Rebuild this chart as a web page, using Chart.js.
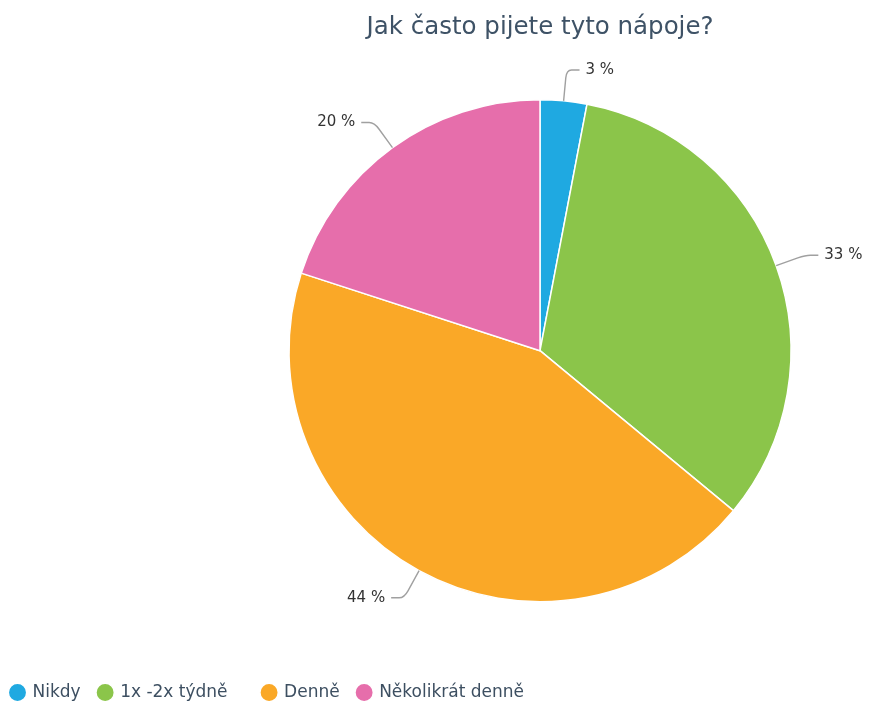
<!DOCTYPE html>
<html>
<head>
<meta charset="utf-8">
<script src="https://cdn.jsdelivr.net/npm/chart.js@4.4.0/dist/chart.umd.min.js"></script>
<style>
  html, body { margin: 0; padding: 0; background: #fff; }
  #wrap { width: 870px; height: 702px; }
</style>
</head>
<body>
<div id="wrap"><canvas id="myChart"></canvas></div>
<script>
const labels = ['Nikdy', '1x -2x týdně', 'Denně', 'Několikrát denně'];
const values = [3, 33, 44, 20];
const colors = ['#1fa9e1', '#8bc54a', '#faa827', '#e66eab'];

// percentage labels outside the pie, with a bent leader line
const outsideLabels = {
  id: 'outsideLabels',
  afterDatasetsDraw(chart) {
    const ctx = chart.ctx;
    const meta = chart.getDatasetMeta(0);
    ctx.save();
    ctx.font = '15px "DejaVu Sans"';
    ctx.textBaseline = 'middle';
    meta.data.forEach((arc, i) => {
      const a = (arc.startAngle + arc.endAngle) / 2;
      const r = arc.outerRadius;
      const cos = Math.cos(a), sin = Math.sin(a);
      const x0 = arc.x + cos * r, y0 = arc.y + sin * r;
      const ext = r + 31;
      const x1 = arc.x + cos * ext, y1 = arc.y + sin * ext;
      const dir = cos >= 0 ? 1 : -1;
      const x2 = x1 + dir * 13;
      const xm = arc.x + cos * (ext - 8), ym = arc.y + sin * (ext - 8);
      ctx.beginPath();
      ctx.moveTo(x0, y0);
      ctx.lineTo(xm, ym);
      ctx.quadraticCurveTo(x1, y1, x1 + dir * 5, y1);
      ctx.lineTo(x2, y1);
      ctx.strokeStyle = '#a0a0a0';
      ctx.lineWidth = 1.4;
      ctx.stroke();
      ctx.fillStyle = '#333333';
      ctx.textAlign = dir > 0 ? 'left' : 'right';
      ctx.fillText(values[i] + ' %', x2 + dir * 6, y1);
    });
    ctx.restore();
  }
};

// legend sits at the bottom left edge, under the offset pie
const legendSpot = {
  id: 'legendSpot',
  afterLayout(chart) {
    const lg = chart.legend;
    const h = lg.bottom - lg.top;
    const w = lg.right - lg.left;
    lg.left = -7;
    lg.right = w - 7;
    lg.top = 666;
    lg.bottom = 666 + h;
  }
};

const config = {
  type: 'pie',
  data: {
    labels: labels,
    datasets: [{
      data: values,
      backgroundColor: colors,
      borderColor: '#ffffff',
      borderWidth: 1.5,
      radius: 251
    }]
  },
  options: {
    responsive: true,
    maintainAspectRatio: false,
    animation: false,
    layout: { padding: { left: 210, right: 0, top: 0, bottom: 14 } },
    plugins: {
      title: {
        display: true,
        text: 'Jak často pijete tyto nápoje?',
        color: '#3e5266',
        font: { family: 'DejaVu Sans', size: 24.5, weight: 'normal' },
        padding: { top: 13, bottom: 16 }
      },
      legend: {
        position: 'bottom',
        align: 'start',
        labels: {
          usePointStyle: true,
          pointStyle: 'circle',
          boxWidth: 13,
          boxHeight: 13,
          padding: 18,
          color: '#3d4f61',
          font: { family: 'DejaVu Sans', size: 17 },
          generateLabels(chart) {
            const items = Chart.overrides.pie.plugins.legend.labels.generateLabels(chart);
            // wider column after the second entry
            items[1].text += '\u2003';
            return items;
          }
        }
      },
      tooltip: { enabled: false }
    }
  },
  plugins: [outsideLabels, legendSpot]
};

const myChart = new Chart(document.getElementById('myChart'), config);
</script>
</body>
</html>
